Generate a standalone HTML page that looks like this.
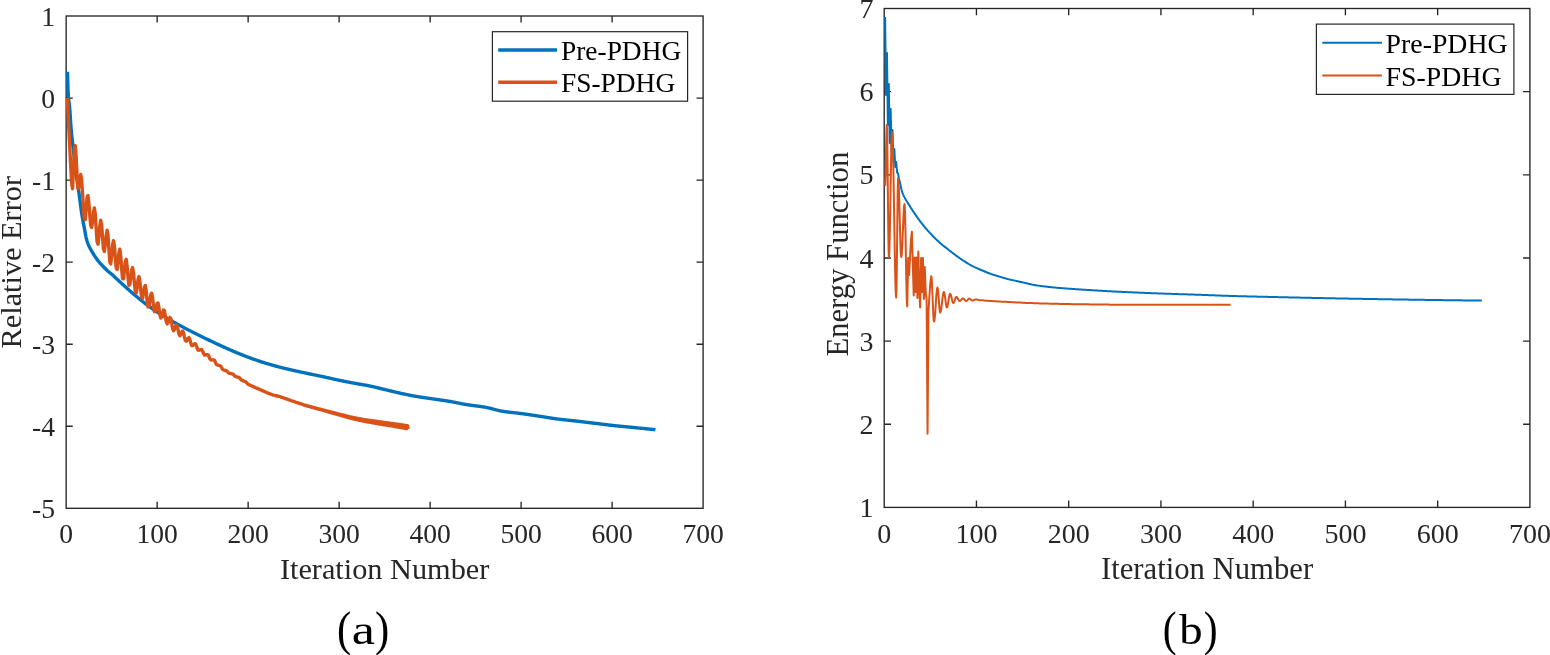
<!DOCTYPE html>
<html lang="en">
<head>
<meta charset="utf-8">
<title>Relative Error and Energy Function versus Iteration Number</title>
<style>
html,body{margin:0;padding:0;background:#fff;}
body{width:1550px;height:655px;overflow:hidden;}
svg{display:block;}
text{white-space:pre;}
</style>
</head>
<body>
<svg width="1550" height="655" viewBox="0 0 1550 655" font-family="'Liberation Serif', 'DejaVu Serif', serif">
<defs>
<clipPath id="cl"><rect x="63.65" y="16" width="639.45" height="492.3"/></clipPath>
<clipPath id="cr"><rect x="881.7" y="8.5" width="648.2" height="498.9"/></clipPath>
</defs>
<rect width="1550" height="655" fill="#fff"/>
<g id="plot-a">
<rect x="66.15" y="16" width="636.95" height="492.3" fill="#fff" stroke="#262626" stroke-width="1.35"/>
<path d="M157.14 508.3v-6.6M157.14 16v6.6M248.14 508.3v-6.6M248.14 16v6.6M339.13 508.3v-6.6M339.13 16v6.6M430.12 508.3v-6.6M430.12 16v6.6M521.11 508.3v-6.6M521.11 16v6.6M612.11 508.3v-6.6M612.11 16v6.6M66.15 98.05h6.6M703.1 98.05h-6.6M66.15 180.1h6.6M703.1 180.1h-6.6M66.15 262.15h6.6M703.1 262.15h-6.6M66.15 344.2h6.6M703.1 344.2h-6.6M66.15 426.25h6.6M703.1 426.25h-6.6" fill="none" stroke="#262626" stroke-width="1.35"/>
<g font-size="27.6" fill="#262626">
<text x="66.15" y="543.3" text-anchor="middle">0</text>
<text x="157.14" y="543.3" text-anchor="middle">100</text>
<text x="248.14" y="543.3" text-anchor="middle">200</text>
<text x="339.13" y="543.3" text-anchor="middle">300</text>
<text x="430.12" y="543.3" text-anchor="middle">400</text>
<text x="521.11" y="543.3" text-anchor="middle">500</text>
<text x="612.11" y="543.3" text-anchor="middle">600</text>
<text x="703.1" y="543.3" text-anchor="middle">700</text>
<text x="55.1" y="25.54" text-anchor="end">1</text>
<text x="55.1" y="107.59" text-anchor="end">0</text>
<text x="55.1" y="189.64" text-anchor="end">-1</text>
<text x="55.1" y="271.69" text-anchor="end">-2</text>
<text x="55.1" y="353.74" text-anchor="end">-3</text>
<text x="55.1" y="435.79" text-anchor="end">-4</text>
<text x="55.1" y="517.84" text-anchor="end">-5</text>
</g>
<g font-size="30.3" fill="#262626" text-anchor="middle">
<text x="384.62" y="579">Iteration Number</text>
<text transform="translate(21 262.2) rotate(-90)">Relative Error</text>
</g>
<polyline clip-path="url(#cl)" points="67.45,71.8 67.95,89.07 68.45,98.19 68.95,101.87 69.45,105.32 69.95,111.41 70.45,119.24 70.95,126.86 71.45,132.65 71.95,137.32 72.45,141.67 72.95,146.15 73.45,150.66 73.95,155.13 74.45,159.55 74.95,163.87 75.45,168.05 75.95,172.07 76.45,175.87 76.95,179.44 77.45,182.84 77.95,186.17 78.45,189.51 78.95,192.94 79.45,196.56 79.95,200.37 80.45,204.26 80.95,208.07 81.45,211.7 81.95,215.01 82.45,218.03 82.95,220.86 83.45,223.57 83.95,226.19 84.45,228.78 84.95,231.4 85.45,234.14 85.95,236.78 86.45,239.01 86.95,240.76 87.45,242.27 87.95,243.62 88.45,244.85 88.95,246 89.45,247.06 89.95,248.04 90.45,248.98 90.95,249.88 91.45,250.76 91.95,251.62 92.45,252.45 92.95,253.26 93.45,254.05 93.95,254.82 94.45,255.58 94.95,256.33 95.45,257.08 95.95,257.83 96.45,258.56 96.95,259.27 97.45,259.97 97.95,260.64 98.45,261.29 98.95,261.91 99.45,262.5 99.95,263.07 100.45,263.62 100.95,264.16 101.45,264.69 101.95,265.21 102.45,265.73 102.95,266.24 103.45,266.75 103.95,267.27 104.45,267.78 104.95,268.28 105.45,268.78 105.95,269.28 106.45,269.76 106.95,270.24 107.45,270.7 107.95,271.16 108.45,271.6 108.95,272.02 109.45,272.43 109.95,272.83 110.45,273.23 110.95,273.63 111.45,274.04 111.95,274.45 112.45,274.89 112.95,275.33 113.45,275.79 113.95,276.25 114.45,276.73 114.95,277.2 115.45,277.68 115.95,278.16 116.45,278.64 116.95,279.11 117.45,279.58 117.95,280.04 118.45,280.51 118.95,280.97 119.45,281.43 119.95,281.89 120.45,282.36 120.95,282.82 121.45,283.27 121.95,283.73 122.45,284.19 122.95,284.65 123.45,285.1 123.95,285.55 124.45,286.01 124.95,286.46 125.45,286.91 125.95,287.36 126.45,287.81 126.95,288.25 127.45,288.7 127.95,289.14 128.45,289.59 128.95,290.03 129.45,290.47 129.95,290.91 130.45,291.34 130.95,291.78 131.45,292.21 131.95,292.64 132.45,293.07 132.95,293.5 133.45,293.93 133.95,294.36 134.45,294.78 134.95,295.21 135.45,295.63 135.95,296.05 136.45,296.47 136.95,296.89 137.45,297.3 137.95,297.72 138.45,298.13 138.95,298.54 139.45,298.94 139.95,299.35 140.45,299.75 140.95,300.15 141.45,300.55 141.95,300.95 142.45,301.34 142.95,301.74 143.45,302.13 143.95,302.52 144.45,302.91 144.95,303.29 145.45,303.68 145.95,304.06 146.45,304.44 146.95,304.82 147.45,305.19 147.95,305.56 148.45,305.93 148.95,306.3 149.45,306.66 149.95,307.02 150.45,307.38 150.95,307.74 151.45,308.1 151.95,308.45 152.45,308.8 152.95,309.15 153.45,309.5 153.95,309.85 154.45,310.19 154.95,310.53 155.45,310.87 155.95,311.21 156.45,311.55 156.95,311.88 157.45,312.21 157.95,312.54 158.45,312.87 158.95,313.2 159.45,313.52 159.95,313.84 160.45,314.16 160.95,314.48 161.45,314.8 161.95,315.11 162.45,315.43 162.95,315.74 163.45,316.05 163.95,316.36 164.45,316.66 164.95,316.97 165.45,317.27 165.95,317.58 166.45,317.88 166.95,318.18 167.45,318.48 167.95,318.77 168.45,319.07 168.95,319.36 169.45,319.65 169.95,319.94 170.45,320.23 170.95,320.52 171.45,320.81 171.95,321.09 172.45,321.37 172.95,321.66 173.45,321.94 173.95,322.22 174.45,322.5 174.95,322.78 175.45,323.05 175.95,323.33 176.45,323.61 176.95,323.88 177.45,324.15 177.95,324.43 178.45,324.7 178.95,324.97 179.45,325.23 179.95,325.5 180.45,325.77 180.95,326.03 181.45,326.3 181.95,326.56 182.45,326.83 182.95,327.09 183.45,327.35 183.95,327.61 184.45,327.88 184.95,328.14 185.45,328.4 185.95,328.66 186.45,328.92 186.95,329.17 187.45,329.43 187.95,329.69 188.45,329.94 188.95,330.2 189.45,330.45 189.95,330.71 190.45,330.96 190.95,331.21 191.45,331.47 191.95,331.72 192.45,331.97 192.95,332.22 193.45,332.47 193.95,332.73 194.45,332.98 194.95,333.23 195.45,333.48 195.95,333.73 196.45,333.98 196.95,334.23 197.45,334.48 197.95,334.73 198.45,334.98 198.95,335.23 199.45,335.48 199.95,335.73 200.45,335.97 200.95,336.22 201.45,336.47 201.95,336.71 202.45,336.96 202.95,337.2 203.45,337.45 203.95,337.69 204.45,337.94 204.95,338.18 205.45,338.43 205.95,338.67 206.45,338.91 206.95,339.16 207.45,339.4 207.95,339.64 208.45,339.89 208.95,340.13 209.45,340.37 209.95,340.61 210.45,340.85 210.95,341.09 211.45,341.33 211.95,341.57 212.45,341.81 212.95,342.04 213.45,342.28 213.95,342.52 214.45,342.75 214.95,342.99 215.45,343.22 215.95,343.45 216.45,343.69 216.95,343.92 217.45,344.15 217.95,344.38 218.45,344.62 218.95,344.85 219.45,345.08 219.95,345.31 220.45,345.54 220.95,345.77 221.45,346 221.95,346.23 222.45,346.46 222.95,346.68 223.45,346.91 223.95,347.14 224.45,347.36 224.95,347.59 225.45,347.81 225.95,348.04 226.45,348.26 226.95,348.48 227.45,348.7 227.95,348.92 228.45,349.14 228.95,349.36 229.45,349.58 229.95,349.79 230.45,350.01 230.95,350.23 231.45,350.44 231.95,350.65 232.45,350.87 232.95,351.08 233.45,351.29 233.95,351.5 234.45,351.72 234.95,351.93 235.45,352.14 235.95,352.35 236.45,352.56 236.95,352.76 237.45,352.97 237.95,353.18 238.45,353.38 238.95,353.59 239.45,353.79 239.95,354 240.45,354.2 240.95,354.4 241.45,354.6 241.95,354.8 242.45,355 242.95,355.2 243.45,355.4 243.95,355.59 244.45,355.79 244.95,355.98 245.45,356.17 245.95,356.36 246.45,356.55 246.95,356.74 247.45,356.93 247.95,357.12 248.45,357.3 248.95,357.49 249.45,357.68 249.95,357.86 250.45,358.05 250.95,358.23 251.45,358.41 251.95,358.59 252.45,358.78 252.95,358.96 253.45,359.13 253.95,359.31 254.45,359.49 254.95,359.67 255.45,359.84 255.95,360.02 256.45,360.19 256.95,360.36 257.45,360.53 257.95,360.7 258.45,360.87 258.95,361.04 259.45,361.21 259.95,361.37 260.45,361.53 260.95,361.7 261.45,361.86 261.95,362.02 262.45,362.18 262.95,362.34 263.45,362.49 263.95,362.65 264.45,362.8 264.95,362.96 265.45,363.11 265.95,363.26 266.45,363.41 266.95,363.56 267.45,363.71 267.95,363.86 268.45,364.01 268.95,364.16 269.45,364.3 269.95,364.45 270.45,364.59 270.95,364.74 271.45,364.88 271.95,365.02 272.45,365.16 272.95,365.3 273.45,365.44 273.95,365.58 274.45,365.72 274.95,365.85 275.45,365.99 275.95,366.12 276.45,366.26 276.95,366.39 277.45,366.52 277.95,366.66 278.45,366.79 278.95,366.92 279.45,367.05 279.95,367.18 280.45,367.3 280.95,367.43 281.45,367.56 281.95,367.68 282.45,367.81 282.95,367.93 283.45,368.05 283.95,368.18 284.45,368.3 284.95,368.42 285.45,368.54 285.95,368.66 286.45,368.78 286.95,368.9 287.45,369.02 287.95,369.14 288.45,369.25 288.95,369.37 289.45,369.49 289.95,369.6 290.45,369.72 290.95,369.84 291.45,369.95 291.95,370.07 292.45,370.18 292.95,370.3 293.45,370.41 293.95,370.52 294.45,370.64 294.95,370.75 295.45,370.86 295.95,370.97 296.45,371.08 296.95,371.19 297.45,371.3 297.95,371.41 298.45,371.52 298.95,371.63 299.45,371.74 299.95,371.84 300.45,371.95 300.95,372.06 301.45,372.16 301.95,372.27 302.45,372.38 302.95,372.48 303.45,372.59 303.95,372.69 304.45,372.8 304.95,372.91 305.45,373.01 305.95,373.12 306.45,373.22 306.95,373.33 307.45,373.43 307.95,373.54 308.45,373.65 308.95,373.75 309.45,373.86 309.95,373.96 310.45,374.07 310.95,374.17 311.45,374.28 311.95,374.38 312.45,374.48 312.95,374.59 313.45,374.69 313.95,374.8 314.45,374.9 314.95,375 315.45,375.1 315.95,375.21 316.45,375.31 316.95,375.41 317.45,375.52 317.95,375.62 318.45,375.72 318.95,375.83 319.45,375.93 319.95,376.04 320.45,376.14 320.95,376.25 321.45,376.35 321.95,376.46 322.45,376.56 322.95,376.67 323.45,376.78 323.95,376.88 324.45,376.99 324.95,377.1 325.45,377.21 325.95,377.32 326.45,377.43 326.95,377.54 327.45,377.65 327.95,377.77 328.45,377.88 328.95,377.99 329.45,378.1 329.95,378.22 330.45,378.33 330.95,378.45 331.45,378.56 331.95,378.67 332.45,378.79 332.95,378.9 333.45,379.01 333.95,379.12 334.45,379.23 334.95,379.35 335.45,379.46 335.95,379.57 336.45,379.68 336.95,379.79 337.45,379.89 337.95,380 338.45,380.11 338.95,380.21 339.45,380.32 339.95,380.42 340.45,380.52 340.95,380.62 341.45,380.72 341.95,380.83 342.45,380.93 342.95,381.03 343.45,381.13 343.95,381.23 344.45,381.32 344.95,381.42 345.45,381.52 345.95,381.62 346.45,381.71 346.95,381.81 347.45,381.91 347.95,382 348.45,382.1 348.95,382.2 349.45,382.29 349.95,382.39 350.45,382.48 350.95,382.58 351.45,382.67 351.95,382.76 352.45,382.86 352.95,382.95 353.45,383.05 353.95,383.14 354.45,383.23 354.95,383.33 355.45,383.42 355.95,383.51 356.45,383.6 356.95,383.69 357.45,383.78 357.95,383.87 358.45,383.96 358.95,384.04 359.45,384.13 359.95,384.22 360.45,384.3 360.95,384.39 361.45,384.48 361.95,384.56 362.45,384.65 362.95,384.73 363.45,384.82 363.95,384.91 364.45,385 364.95,385.08 365.45,385.17 365.95,385.26 366.45,385.35 366.95,385.45 367.45,385.54 367.95,385.64 368.45,385.73 368.95,385.83 369.45,385.93 369.95,386.03 370.45,386.13 370.95,386.24 371.45,386.34 371.95,386.45 372.45,386.56 372.95,386.67 373.45,386.79 373.95,386.9 374.45,387.02 374.95,387.14 375.45,387.26 375.95,387.38 376.45,387.5 376.95,387.62 377.45,387.74 377.95,387.87 378.45,387.99 378.95,388.12 379.45,388.24 379.95,388.37 380.45,388.49 380.95,388.62 381.45,388.74 381.95,388.86 382.45,388.99 382.95,389.11 383.45,389.23 383.95,389.36 384.45,389.48 384.95,389.6 385.45,389.72 385.95,389.84 386.45,389.95 386.95,390.07 387.45,390.19 387.95,390.31 388.45,390.43 388.95,390.55 389.45,390.67 389.95,390.79 390.45,390.9 390.95,391.02 391.45,391.14 391.95,391.26 392.45,391.38 392.95,391.5 393.45,391.62 393.95,391.73 394.45,391.85 394.95,391.97 395.45,392.08 395.95,392.2 396.45,392.32 396.95,392.43 397.45,392.55 397.95,392.66 398.45,392.77 398.95,392.88 399.45,393 399.95,393.11 400.45,393.22 400.95,393.32 401.45,393.43 401.95,393.54 402.45,393.65 402.95,393.75 403.45,393.86 403.95,393.97 404.45,394.07 404.95,394.18 405.45,394.29 405.95,394.39 406.45,394.5 406.95,394.6 407.45,394.71 407.95,394.81 408.45,394.91 408.95,395.02 409.45,395.12 409.95,395.22 410.45,395.32 410.95,395.42 411.45,395.52 411.95,395.61 412.45,395.71 412.95,395.81 413.45,395.9 413.95,395.99 414.45,396.08 414.95,396.18 415.45,396.26 415.95,396.35 416.45,396.44 416.95,396.53 417.45,396.61 417.95,396.69 418.45,396.77 418.95,396.85 419.45,396.93 419.95,397.01 420.45,397.09 420.95,397.16 421.45,397.24 421.95,397.31 422.45,397.39 422.95,397.46 423.45,397.53 423.95,397.6 424.45,397.68 424.95,397.75 425.45,397.82 425.95,397.89 426.45,397.96 426.95,398.03 427.45,398.1 427.95,398.17 428.45,398.24 428.95,398.31 429.45,398.38 429.95,398.46 430.45,398.53 430.95,398.6 431.45,398.67 431.95,398.75 432.45,398.82 432.95,398.9 433.45,398.97 433.95,399.04 434.45,399.12 434.95,399.19 435.45,399.26 435.95,399.34 436.45,399.41 436.95,399.48 437.45,399.56 437.95,399.63 438.45,399.7 438.95,399.77 439.45,399.85 439.95,399.92 440.45,399.99 440.95,400.06 441.45,400.14 441.95,400.21 442.45,400.29 442.95,400.36 443.45,400.43 443.95,400.51 444.45,400.59 444.95,400.66 445.45,400.74 445.95,400.82 446.45,400.89 446.95,400.97 447.45,401.05 447.95,401.13 448.45,401.21 448.95,401.29 449.45,401.38 449.95,401.46 450.45,401.54 450.95,401.63 451.45,401.72 451.95,401.81 452.45,401.9 452.95,401.99 453.45,402.09 453.95,402.18 454.45,402.28 454.95,402.38 455.45,402.48 455.95,402.58 456.45,402.68 456.95,402.78 457.45,402.88 457.95,402.98 458.45,403.08 458.95,403.18 459.45,403.28 459.95,403.38 460.45,403.47 460.95,403.57 461.45,403.67 461.95,403.77 462.45,403.86 462.95,403.96 463.45,404.05 463.95,404.14 464.45,404.23 464.95,404.32 465.45,404.41 465.95,404.49 466.45,404.58 466.95,404.66 467.45,404.73 467.95,404.81 468.45,404.89 468.95,404.96 469.45,405.03 469.95,405.1 470.45,405.17 470.95,405.24 471.45,405.31 471.95,405.37 472.45,405.44 472.95,405.51 473.45,405.57 473.95,405.63 474.45,405.7 474.95,405.76 475.45,405.83 475.95,405.89 476.45,405.95 476.95,406.02 477.45,406.08 477.95,406.15 478.45,406.21 478.95,406.28 479.45,406.35 479.95,406.42 480.45,406.49 480.95,406.56 481.45,406.63 481.95,406.71 482.45,406.78 482.95,406.86 483.45,406.94 483.95,407.02 484.45,407.11 484.95,407.19 485.45,407.28 485.95,407.37 486.45,407.47 486.95,407.58 487.45,407.68 487.95,407.79 488.45,407.91 488.95,408.02 489.45,408.14 489.95,408.26 490.45,408.39 490.95,408.51 491.45,408.64 491.95,408.77 492.45,408.9 492.95,409.03 493.45,409.16 493.95,409.29 494.45,409.42 494.95,409.55 495.45,409.68 495.95,409.81 496.45,409.93 496.95,410.06 497.45,410.18 497.95,410.3 498.45,410.42 498.95,410.54 499.45,410.65 499.95,410.76 500.45,410.87 500.95,410.97 501.45,411.07 501.95,411.17 502.45,411.26 502.95,411.34 503.45,411.42 503.95,411.5 504.45,411.58 504.95,411.65 505.45,411.72 505.95,411.79 506.45,411.85 506.95,411.92 507.45,411.98 507.95,412.05 508.45,412.11 508.95,412.17 509.45,412.22 509.95,412.28 510.45,412.34 510.95,412.39 511.45,412.45 511.95,412.5 512.45,412.56 512.95,412.61 513.45,412.67 513.95,412.72 514.45,412.77 514.95,412.83 515.45,412.88 515.95,412.93 516.45,412.99 516.95,413.04 517.45,413.1 517.95,413.15 518.45,413.21 518.95,413.27 519.45,413.33 519.95,413.39 520.45,413.45 520.95,413.52 521.45,413.58 521.95,413.65 522.45,413.71 522.95,413.78 523.45,413.85 523.95,413.92 524.45,413.99 524.95,414.06 525.45,414.13 525.95,414.2 526.45,414.27 526.95,414.35 527.45,414.42 527.95,414.49 528.45,414.57 528.95,414.64 529.45,414.72 529.95,414.79 530.45,414.87 530.95,414.94 531.45,415.02 531.95,415.09 532.45,415.17 532.95,415.24 533.45,415.32 533.95,415.4 534.45,415.47 534.95,415.55 535.45,415.63 535.95,415.7 536.45,415.78 536.95,415.85 537.45,415.93 537.95,416.01 538.45,416.08 538.95,416.16 539.45,416.23 539.95,416.31 540.45,416.38 540.95,416.46 541.45,416.54 541.95,416.61 542.45,416.69 542.95,416.77 543.45,416.85 543.95,416.93 544.45,417.01 544.95,417.09 545.45,417.17 545.95,417.25 546.45,417.33 546.95,417.41 547.45,417.49 547.95,417.57 548.45,417.65 548.95,417.73 549.45,417.81 549.95,417.89 550.45,417.97 550.95,418.04 551.45,418.12 551.95,418.2 552.45,418.27 552.95,418.35 553.45,418.43 553.95,418.5 554.45,418.57 554.95,418.65 555.45,418.72 555.95,418.79 556.45,418.86 556.95,418.92 557.45,418.99 557.95,419.06 558.45,419.12 558.95,419.18 559.45,419.24 559.95,419.3 560.45,419.36 560.95,419.42 561.45,419.48 561.95,419.54 562.45,419.59 562.95,419.65 563.45,419.71 563.95,419.76 564.45,419.81 564.95,419.87 565.45,419.92 565.95,419.97 566.45,420.03 566.95,420.08 567.45,420.13 567.95,420.18 568.45,420.23 568.95,420.28 569.45,420.34 569.95,420.39 570.45,420.44 570.95,420.49 571.45,420.54 571.95,420.59 572.45,420.65 572.95,420.7 573.45,420.75 573.95,420.81 574.45,420.86 574.95,420.91 575.45,420.97 575.95,421.03 576.45,421.08 576.95,421.14 577.45,421.2 577.95,421.26 578.45,421.31 578.95,421.37 579.45,421.43 579.95,421.49 580.45,421.55 580.95,421.61 581.45,421.67 581.95,421.73 582.45,421.79 582.95,421.85 583.45,421.91 583.95,421.97 584.45,422.03 584.95,422.09 585.45,422.15 585.95,422.21 586.45,422.27 586.95,422.33 587.45,422.39 587.95,422.46 588.45,422.52 588.95,422.58 589.45,422.64 589.95,422.7 590.45,422.76 590.95,422.82 591.45,422.88 591.95,422.94 592.45,423 592.95,423.06 593.45,423.13 593.95,423.19 594.45,423.25 594.95,423.31 595.45,423.37 595.95,423.43 596.45,423.49 596.95,423.55 597.45,423.61 597.95,423.67 598.45,423.73 598.95,423.8 599.45,423.86 599.95,423.92 600.45,423.98 600.95,424.04 601.45,424.11 601.95,424.17 602.45,424.23 602.95,424.29 603.45,424.35 603.95,424.42 604.45,424.48 604.95,424.54 605.45,424.6 605.95,424.66 606.45,424.72 606.95,424.78 607.45,424.84 607.95,424.9 608.45,424.96 608.95,425.02 609.45,425.08 609.95,425.14 610.45,425.19 610.95,425.25 611.45,425.31 611.95,425.36 612.45,425.42 612.95,425.47 613.45,425.53 613.95,425.58 614.45,425.63 614.95,425.69 615.45,425.74 615.95,425.79 616.45,425.84 616.95,425.89 617.45,425.94 617.95,425.99 618.45,426.04 618.95,426.09 619.45,426.14 619.95,426.19 620.45,426.24 620.95,426.29 621.45,426.33 621.95,426.38 622.45,426.43 622.95,426.48 623.45,426.53 623.95,426.57 624.45,426.62 624.95,426.67 625.45,426.72 625.95,426.76 626.45,426.81 626.95,426.86 627.45,426.91 627.95,426.95 628.45,427 628.95,427.05 629.45,427.1 629.95,427.15 630.45,427.2 630.95,427.25 631.45,427.3 631.95,427.34 632.45,427.39 632.95,427.44 633.45,427.49 633.95,427.54 634.45,427.59 634.95,427.64 635.45,427.69 635.95,427.74 636.45,427.79 636.95,427.84 637.45,427.89 637.95,427.94 638.45,427.99 638.95,428.04 639.45,428.09 639.95,428.14 640.45,428.19 640.95,428.24 641.45,428.29 641.95,428.34 642.45,428.39 642.95,428.44 643.45,428.49 643.95,428.54 644.45,428.59 644.95,428.64 645.45,428.69 645.95,428.74 646.45,428.79 646.95,428.85 647.45,428.9 647.95,428.95 648.45,429 648.95,429.05 649.45,429.1 649.95,429.15 650.45,429.2 650.95,429.25 651.45,429.3 651.95,429.35 652.45,429.4 652.95,429.45 653.45,429.5 653.95,429.55 654.45,429.6 654.95,429.65 655.4,429.7" fill="none" stroke="#0072BD" stroke-width="3.4" stroke-linejoin="round" stroke-linecap="butt"/>
<polyline clip-path="url(#cl)" points="67.46,98.05 68.3,117.99 69.14,135.25 69.97,151.63 70.81,167.47 71.65,182.91 72.52,188.74 73.43,171.01 74.34,150.59 75.25,145.55 76.16,157.19 77.07,175.93 77.98,188.55 78.89,187.46 79.8,179.17 80.71,174.51 81.62,179.76 82.53,192.99 83.44,208.29 84.35,218.84 85.26,219.66 86.17,208.98 87.08,197.04 87.99,195.55 88.9,203.38 89.81,215.48 90.72,225.32 91.63,227.61 92.54,221.63 93.45,212.56 94.36,208.02 95.27,213.94 96.18,228.63 97.09,241.75 98,244.24 98.91,236.68 99.82,225.82 100.73,220.25 101.64,224.99 102.55,237.51 103.46,249.01 104.37,251.49 105.28,245.05 106.19,235.44 107.1,230.26 108.01,235.32 108.92,249.36 109.83,261.93 110.74,263.87 111.65,255.99 112.56,245.34 113.47,240.61 114.38,245.83 115.29,257.57 116.2,267.79 117.11,269.53 118.02,262.23 118.93,252.59 119.84,249.24 120.75,256.15 121.66,268.98 122.57,278.68 123.48,278.72 124.39,270.76 125.3,261.73 126.21,259.27 127.12,266.11 128.03,277.59 128.94,285.37 129.85,284.46 130.75,277.61 131.66,270.12 132.57,267.59 133.48,272.7 134.39,282.7 135.3,291.28 136.21,293.04 137.12,287.43 138.03,279.59 138.94,276.55 139.85,281.13 140.76,290.25 141.67,297.65 142.58,298.41 143.49,293.26 144.4,287.07 145.31,285.44 146.22,291.13 147.13,300.57 148.04,306.92 148.95,306.13 149.86,300.64 150.77,294.82 151.68,293.16 152.59,297.88 153.5,306.03 154.41,311.69 155.32,311.32 156.23,307.31 157.14,303.33 158.05,302.98 158.96,307.8 159.87,314.53 160.78,318.14 161.69,316.75 162.6,312.87 163.51,309.88 164.42,310.67 165.33,315.77 166.24,321.57 167.15,323.89 168.06,322.41 168.97,319.45 169.88,317.43 170.79,318.49 171.7,323.27 172.61,328.59 173.52,330.8 174.43,329.52 175.34,326.89 176.25,325.1 177.16,326.03 178.07,329.95 178.98,334.15 179.89,335.69 180.8,334.45 181.71,332.23 182.62,331.01 183.53,332.59 184.44,336.78 185.35,340.54 186.26,341.29 187.17,340.01 188.08,338.31 188.99,337.65 189.9,339.56 190.81,343.19 191.72,345.66 192.63,345.63 193.54,344.83 194.45,343.98 195.36,343.75 196.27,345.37 197.18,348.22 198.09,350.17 199,350.25 199.91,349.91 200.82,349.56 201.73,349.53 202.64,351.12 203.55,353.58 204.46,354.99 205.37,354.96 206.28,354.77 207.19,354.6 208.1,354.79 209.01,356.62 209.92,358.97 210.83,359.99 211.74,359.96 212.65,359.92 213.56,359.89 214.47,360.29 215.38,362.21 216.29,364.28 217.2,364.91 218.11,365.11 219.02,365.43 219.93,365.62 220.84,366.19 221.75,367.93 222.66,369.52 223.57,369.86 224.48,370.17 225.39,370.58 226.3,370.76 227.21,371.27 228.12,372.4 229.03,373.25 229.94,373.38 230.85,373.57 231.76,373.78 232.67,373.87 233.58,374.57 234.49,375.76 235.4,376.5 236.31,376.63 237.22,376.97 238.13,377.29 239.04,377.44 239.95,378.35 240.86,379.61 241.77,380.21 242.68,380.44 243.59,380.98 244.5,381.4 245.41,381.58 246.32,382.37 247.23,383.5 248.14,384.38 249.05,384.71 249.96,385.13 250.87,385.54 251.78,385.95 252.69,386.36 253.6,386.76 254.51,387.17 255.42,387.57 256.33,387.97 257.24,388.37 258.14,388.77 259.05,389.17 259.96,389.56 260.87,389.96 261.78,390.35 262.69,390.75 263.6,391.15 264.51,391.56 265.42,391.96 266.33,392.37 267.24,392.76 268.15,393.15 269.06,393.51 269.97,393.86 270.88,394.19 271.79,394.49 272.7,394.77 273.61,395.04 274.52,395.28 275.43,395.52 276.34,395.76 277.25,395.99 278.16,396.23 279.07,396.48 279.98,396.74 280.89,397.02 281.8,397.31 282.71,397.61 283.62,397.92 284.53,398.24 285.44,398.56 286.35,398.88 287.26,399.21 288.17,399.54 289.08,399.87 289.99,400.19 290.9,400.51 291.81,400.84 292.72,401.13 293.63,401.46 294.54,401.73 295.45,402.09 296.36,402.33 297.27,402.71 298.18,402.92 299.09,403.33 300,403.51 300.91,403.94 301.82,404.09 302.73,404.55 303.64,404.65 304.55,405.14 305.46,405.21 306.37,405.72 307.28,405.74 308.19,406.28 309.1,406.25 310.01,406.82 310.92,406.74 311.83,407.33 312.74,407.21 313.65,407.83 314.56,407.67 315.47,408.32 316.38,408.12 317.29,408.81 318.2,408.57 319.11,409.31 320.02,409.02 320.93,409.81 321.84,409.49 322.75,410.33 323.66,409.97 324.57,410.85 325.48,410.45 326.39,411.38 327.3,410.93 328.21,411.91 329.12,411.42 330.03,412.44 330.94,411.9 331.85,412.97 332.76,412.38 333.67,413.49 334.58,412.86 335.49,414.01 336.4,413.32 337.31,414.52 338.22,413.78 339.13,415.03 340.04,414.24 340.95,415.53 341.86,414.7 342.77,416.04 343.68,415.16 344.59,416.55 345.5,415.62 346.41,417.06 347.32,416.07 348.23,417.56 349.14,416.51 350.05,418.04 350.96,416.94 351.87,418.51 352.78,417.35 353.69,418.97 354.6,417.74 355.51,419.4 356.42,418.11 357.33,419.82 358.24,418.46 359.15,420.21 360.06,418.79 360.97,420.59 361.88,419.11 362.79,420.96 363.7,419.42 364.61,421.32 365.52,419.72 366.43,421.67 367.34,420.01 368.25,422.01 369.16,420.29 370.07,422.35 370.98,420.57 371.89,422.68 372.8,420.84 373.71,423 374.62,421.11 375.53,423.33 376.44,421.37 377.35,423.64 378.26,421.62 379.17,423.95 380.08,421.86 380.99,424.25 381.9,422.1 382.81,424.54 383.72,422.33 384.62,424.83 385.53,422.56 386.44,425.12 387.35,422.79 388.26,425.41 389.17,423.03 390.08,425.71 390.99,423.27 391.9,426.01 392.81,423.51 393.72,426.32 394.63,423.77 395.54,426.64 396.45,424.03 397.36,426.97 398.27,424.3 399.18,427.3 400.09,424.57 401,427.63 401.91,424.84 402.82,427.97 403.73,425.11 404.64,428.31 405.55,425.39 406.46,428.65 407.37,425.68 408.28,429" fill="none" stroke="#D95319" stroke-width="3.4" stroke-linejoin="round" stroke-linecap="butt"/>
<rect x="492.4" y="31.7" width="195.2" height="69.5" fill="#fff" stroke="#262626" stroke-width="1.2"/>
<path d="M498.2 50H557" stroke="#0072BD" stroke-width="3.4"/>
<path d="M498.2 82.2H557" stroke="#D95319" stroke-width="3.4"/>
<g font-size="27.4" fill="#000">
<text x="561" y="59.6">Pre-PDHG</text>
<text x="561" y="91.8">FS-PDHG</text>
</g>
</g>
<g id="plot-b">
<rect x="884.2" y="8.5" width="645.7" height="498.9" fill="#fff" stroke="#262626" stroke-width="1.35"/>
<path d="M976.44 507.4v-6.8M976.44 8.5v6.8M1068.69 507.4v-6.8M1068.69 8.5v6.8M1160.93 507.4v-6.8M1160.93 8.5v6.8M1253.17 507.4v-6.8M1253.17 8.5v6.8M1345.41 507.4v-6.8M1345.41 8.5v6.8M1437.66 507.4v-6.8M1437.66 8.5v6.8M884.2 91.65h6.8M1529.9 91.65h-6.8M884.2 174.8h6.8M1529.9 174.8h-6.8M884.2 257.95h6.8M1529.9 257.95h-6.8M884.2 341.1h6.8M1529.9 341.1h-6.8M884.2 424.25h6.8M1529.9 424.25h-6.8" fill="none" stroke="#262626" stroke-width="1.35"/>
<g font-size="28" fill="#262626">
<text x="884.2" y="543.3" text-anchor="middle">0</text>
<text x="976.44" y="543.3" text-anchor="middle">100</text>
<text x="1068.69" y="543.3" text-anchor="middle">200</text>
<text x="1160.93" y="543.3" text-anchor="middle">300</text>
<text x="1253.17" y="543.3" text-anchor="middle">400</text>
<text x="1345.41" y="543.3" text-anchor="middle">500</text>
<text x="1437.66" y="543.3" text-anchor="middle">600</text>
<text x="1529.9" y="543.3" text-anchor="middle">700</text>
<text x="873.6" y="18.17" text-anchor="end">7</text>
<text x="873.6" y="101.32" text-anchor="end">6</text>
<text x="873.6" y="184.47" text-anchor="end">5</text>
<text x="873.6" y="267.62" text-anchor="end">4</text>
<text x="873.6" y="350.77" text-anchor="end">3</text>
<text x="873.6" y="433.92" text-anchor="end">2</text>
<text x="873.6" y="517.07" text-anchor="end">1</text>
</g>
<g font-size="30.7" fill="#262626" text-anchor="middle">
<text x="1207.05" y="579">Iteration Number</text>
<text transform="translate(847.8 254.2) rotate(-90)">Energy Function</text>
</g>
<polyline clip-path="url(#cr)" points="885.12,17 886.04,95 886.97,53 887.89,125 888.81,84 889.73,143 890.66,109 891.58,152 892.5,130 893.42,161 894.35,149 895.27,167 896.19,162 897.11,172.5 898.04,173.5 898.96,178.8 899.56,181 900.16,183.4 900.76,186.2 901.36,189.23 901.96,191.44 902.56,193.14 903.16,194.6 903.76,195.9 904.36,197.13 904.96,198.27 905.56,199.33 906.16,200.34 906.76,201.3 907.36,202.25 907.96,203.18 908.56,204.13 909.16,205.1 909.76,206.05 910.36,207 910.96,207.95 911.56,208.89 912.16,209.82 912.76,210.74 913.36,211.65 913.96,212.56 914.56,213.46 915.16,214.34 915.76,215.22 916.36,216.08 916.96,216.94 917.56,217.78 918.16,218.61 918.76,219.42 919.36,220.23 919.96,221.03 920.56,221.82 921.16,222.6 921.76,223.37 922.36,224.13 922.96,224.88 923.56,225.63 924.16,226.36 924.76,227.09 925.36,227.81 925.96,228.52 926.56,229.22 927.16,229.91 927.76,230.59 928.36,231.27 928.96,231.94 929.56,232.6 930.16,233.26 930.76,233.91 931.36,234.55 931.96,235.18 932.56,235.81 933.16,236.43 933.76,237.04 934.36,237.64 934.96,238.23 935.56,238.81 936.16,239.39 936.76,239.96 937.36,240.51 937.96,241.06 938.56,241.6 939.16,242.12 939.76,242.65 940.36,243.16 940.96,243.67 941.56,244.17 942.16,244.67 942.76,245.17 943.36,245.66 943.96,246.15 944.56,246.64 945.16,247.12 945.76,247.61 946.36,248.09 946.96,248.58 947.56,249.05 948.16,249.53 948.76,250 949.36,250.47 949.96,250.94 950.56,251.4 951.16,251.86 951.76,252.32 952.36,252.77 952.96,253.23 953.56,253.67 954.16,254.12 954.76,254.57 955.36,255.01 955.96,255.45 956.56,255.89 957.16,256.33 957.76,256.77 958.36,257.2 958.96,257.63 959.56,258.06 960.16,258.48 960.76,258.89 961.36,259.31 961.96,259.71 962.56,260.11 963.16,260.51 963.76,260.9 964.36,261.28 964.96,261.67 965.56,262.05 966.16,262.43 966.76,262.81 967.36,263.18 967.96,263.54 968.56,263.91 969.16,264.26 969.76,264.61 970.36,264.95 970.96,265.28 971.56,265.61 972.16,265.92 972.76,266.23 973.36,266.53 973.96,266.82 974.56,267.11 975.16,267.38 975.76,267.66 976.36,267.92 976.96,268.19 977.56,268.45 978.16,268.7 978.76,268.96 979.36,269.21 979.96,269.46 980.56,269.72 981.16,269.97 981.76,270.23 982.36,270.48 982.96,270.74 983.56,270.99 984.16,271.25 984.76,271.5 985.36,271.76 985.96,272.01 986.56,272.26 987.16,272.5 987.76,272.75 988.36,272.98 988.96,273.22 989.56,273.45 990.16,273.67 990.76,273.89 991.36,274.1 991.96,274.3 992.56,274.51 993.16,274.7 993.76,274.9 994.36,275.09 994.96,275.28 995.56,275.46 996.16,275.65 996.76,275.83 997.36,276.01 997.96,276.19 998.56,276.37 999.16,276.55 999.76,276.73 1000.36,276.91 1000.96,277.09 1001.56,277.26 1002.16,277.44 1002.76,277.62 1003.36,277.8 1003.96,277.97 1004.56,278.15 1005.16,278.32 1005.76,278.49 1006.36,278.65 1006.96,278.82 1007.56,278.98 1008.16,279.14 1008.76,279.29 1009.36,279.44 1009.96,279.58 1010.56,279.73 1011.16,279.86 1011.76,280 1012.36,280.13 1012.96,280.26 1013.56,280.39 1014.16,280.52 1014.76,280.64 1015.36,280.77 1015.96,280.89 1016.56,281.02 1017.16,281.15 1017.76,281.28 1018.36,281.41 1018.96,281.55 1019.56,281.68 1020.16,281.81 1020.76,281.95 1021.36,282.08 1021.96,282.22 1022.56,282.35 1023.16,282.49 1023.76,282.62 1024.36,282.76 1024.96,282.89 1025.56,283.03 1026.16,283.17 1026.76,283.32 1027.36,283.46 1027.96,283.61 1028.56,283.76 1029.16,283.91 1029.76,284.05 1030.36,284.2 1030.96,284.34 1031.56,284.48 1032.16,284.61 1032.76,284.73 1033.36,284.85 1033.96,284.96 1034.56,285.06 1035.16,285.16 1035.76,285.26 1036.36,285.35 1036.96,285.44 1037.56,285.53 1038.16,285.62 1038.76,285.71 1039.36,285.79 1039.96,285.88 1040.56,285.96 1041.16,286.04 1041.76,286.12 1042.36,286.19 1042.96,286.27 1043.56,286.34 1044.16,286.41 1044.76,286.49 1045.36,286.56 1045.96,286.62 1046.56,286.69 1047.16,286.76 1047.76,286.83 1048.36,286.89 1048.96,286.95 1049.56,287.02 1050.16,287.08 1050.76,287.14 1051.36,287.2 1051.96,287.27 1052.56,287.33 1053.16,287.39 1053.76,287.44 1054.36,287.5 1054.96,287.56 1055.56,287.61 1056.16,287.67 1056.76,287.72 1057.36,287.78 1057.96,287.83 1058.56,287.88 1059.16,287.93 1059.76,287.98 1060.36,288.03 1060.96,288.08 1061.56,288.13 1062.16,288.18 1062.76,288.23 1063.36,288.27 1063.96,288.32 1064.56,288.37 1065.16,288.41 1065.76,288.46 1066.36,288.51 1066.96,288.55 1067.56,288.6 1068.16,288.64 1068.76,288.69 1069.36,288.73 1069.96,288.77 1070.56,288.82 1071.16,288.86 1071.76,288.91 1072.36,288.95 1072.96,288.99 1073.56,289.03 1074.16,289.08 1074.76,289.12 1075.36,289.16 1075.96,289.2 1076.56,289.24 1077.16,289.28 1077.76,289.32 1078.36,289.36 1078.96,289.4 1079.56,289.44 1080.16,289.48 1080.76,289.51 1081.36,289.55 1081.96,289.59 1082.56,289.63 1083.16,289.67 1083.76,289.71 1084.36,289.74 1084.96,289.78 1085.56,289.82 1086.16,289.86 1086.76,289.9 1087.36,289.93 1087.96,289.97 1088.56,290.01 1089.16,290.05 1089.76,290.09 1090.36,290.12 1090.96,290.16 1091.56,290.2 1092.16,290.24 1092.76,290.28 1093.36,290.32 1093.96,290.35 1094.56,290.39 1095.16,290.43 1095.76,290.47 1096.36,290.5 1096.96,290.54 1097.56,290.58 1098.16,290.62 1098.76,290.65 1099.36,290.69 1099.96,290.73 1100.56,290.76 1101.16,290.8 1101.76,290.83 1102.36,290.87 1102.96,290.91 1103.56,290.94 1104.16,290.97 1104.76,291.01 1105.36,291.04 1105.96,291.08 1106.56,291.11 1107.16,291.14 1107.76,291.17 1108.36,291.21 1108.96,291.24 1109.56,291.27 1110.16,291.3 1110.76,291.33 1111.36,291.36 1111.96,291.39 1112.56,291.43 1113.16,291.46 1113.76,291.49 1114.36,291.52 1114.96,291.55 1115.56,291.58 1116.16,291.61 1116.76,291.63 1117.36,291.66 1117.96,291.69 1118.56,291.72 1119.16,291.75 1119.76,291.78 1120.36,291.81 1120.96,291.84 1121.56,291.86 1122.16,291.89 1122.76,291.92 1123.36,291.95 1123.96,291.98 1124.56,292 1125.16,292.03 1125.76,292.06 1126.36,292.08 1126.96,292.11 1127.56,292.14 1128.16,292.17 1128.76,292.19 1129.36,292.22 1129.96,292.25 1130.56,292.27 1131.16,292.3 1131.76,292.33 1132.36,292.35 1132.96,292.38 1133.56,292.41 1134.16,292.43 1134.76,292.46 1135.36,292.48 1135.96,292.51 1136.56,292.54 1137.16,292.56 1137.76,292.59 1138.36,292.61 1138.96,292.64 1139.56,292.66 1140.16,292.69 1140.76,292.71 1141.36,292.74 1141.96,292.77 1142.56,292.79 1143.16,292.82 1143.76,292.84 1144.36,292.86 1144.96,292.89 1145.56,292.91 1146.16,292.94 1146.76,292.96 1147.36,292.99 1147.96,293.01 1148.56,293.04 1149.16,293.06 1149.76,293.08 1150.36,293.11 1150.96,293.13 1151.56,293.16 1152.16,293.18 1152.76,293.2 1153.36,293.23 1153.96,293.25 1154.56,293.27 1155.16,293.3 1155.76,293.32 1156.36,293.34 1156.96,293.36 1157.56,293.39 1158.16,293.41 1158.76,293.43 1159.36,293.45 1159.96,293.48 1160.56,293.5 1161.16,293.52 1161.76,293.54 1162.36,293.56 1162.96,293.59 1163.56,293.61 1164.16,293.63 1164.76,293.65 1165.36,293.67 1165.96,293.69 1166.56,293.71 1167.16,293.73 1167.76,293.75 1168.36,293.77 1168.96,293.79 1169.56,293.81 1170.16,293.83 1170.76,293.85 1171.36,293.87 1171.96,293.89 1172.56,293.91 1173.16,293.93 1173.76,293.95 1174.36,293.97 1174.96,293.99 1175.56,294.01 1176.16,294.03 1176.76,294.05 1177.36,294.07 1177.96,294.09 1178.56,294.11 1179.16,294.13 1179.76,294.14 1180.36,294.16 1180.96,294.18 1181.56,294.2 1182.16,294.22 1182.76,294.24 1183.36,294.26 1183.96,294.28 1184.56,294.3 1185.16,294.32 1185.76,294.34 1186.36,294.35 1186.96,294.37 1187.56,294.39 1188.16,294.41 1188.76,294.43 1189.36,294.45 1189.96,294.47 1190.56,294.49 1191.16,294.51 1191.76,294.53 1192.36,294.55 1192.96,294.57 1193.56,294.59 1194.16,294.61 1194.76,294.63 1195.36,294.65 1195.96,294.67 1196.56,294.69 1197.16,294.71 1197.76,294.73 1198.36,294.75 1198.96,294.78 1199.56,294.8 1200.16,294.82 1200.76,294.84 1201.36,294.86 1201.96,294.88 1202.56,294.91 1203.16,294.93 1203.76,294.95 1204.36,294.97 1204.96,295 1205.56,295.02 1206.16,295.04 1206.76,295.06 1207.36,295.09 1207.96,295.11 1208.56,295.13 1209.16,295.15 1209.76,295.18 1210.36,295.2 1210.96,295.22 1211.56,295.25 1212.16,295.27 1212.76,295.29 1213.36,295.31 1213.96,295.34 1214.56,295.36 1215.16,295.38 1215.76,295.41 1216.36,295.43 1216.96,295.45 1217.56,295.47 1218.16,295.5 1218.76,295.52 1219.36,295.54 1219.96,295.56 1220.56,295.58 1221.16,295.61 1221.76,295.63 1222.36,295.65 1222.96,295.67 1223.56,295.69 1224.16,295.71 1224.76,295.73 1225.36,295.76 1225.96,295.78 1226.56,295.8 1227.16,295.82 1227.76,295.84 1228.36,295.86 1228.96,295.88 1229.56,295.9 1230.16,295.92 1230.76,295.93 1231.36,295.95 1231.96,295.97 1232.56,295.99 1233.16,296.01 1233.76,296.03 1234.36,296.04 1234.96,296.06 1235.56,296.08 1236.16,296.1 1236.76,296.11 1237.36,296.13 1237.96,296.15 1238.56,296.16 1239.16,296.18 1239.76,296.2 1240.36,296.21 1240.96,296.23 1241.56,296.24 1242.16,296.26 1242.76,296.28 1243.36,296.29 1243.96,296.31 1244.56,296.32 1245.16,296.34 1245.76,296.35 1246.36,296.37 1246.96,296.38 1247.56,296.4 1248.16,296.41 1248.76,296.43 1249.36,296.44 1249.96,296.46 1250.56,296.47 1251.16,296.49 1251.76,296.5 1252.36,296.52 1252.96,296.53 1253.56,296.55 1254.16,296.56 1254.76,296.57 1255.36,296.59 1255.96,296.6 1256.56,296.62 1257.16,296.63 1257.76,296.65 1258.36,296.66 1258.96,296.68 1259.56,296.69 1260.16,296.7 1260.76,296.72 1261.36,296.73 1261.96,296.75 1262.56,296.76 1263.16,296.78 1263.76,296.79 1264.36,296.8 1264.96,296.82 1265.56,296.83 1266.16,296.85 1266.76,296.86 1267.36,296.87 1267.96,296.89 1268.56,296.9 1269.16,296.92 1269.76,296.93 1270.36,296.95 1270.96,296.96 1271.56,296.97 1272.16,296.99 1272.76,297 1273.36,297.02 1273.96,297.03 1274.56,297.04 1275.16,297.06 1275.76,297.07 1276.36,297.09 1276.96,297.1 1277.56,297.11 1278.16,297.13 1278.76,297.14 1279.36,297.16 1279.96,297.17 1280.56,297.18 1281.16,297.2 1281.76,297.21 1282.36,297.23 1282.96,297.24 1283.56,297.25 1284.16,297.27 1284.76,297.28 1285.36,297.29 1285.96,297.31 1286.56,297.32 1287.16,297.34 1287.76,297.35 1288.36,297.36 1288.96,297.38 1289.56,297.39 1290.16,297.4 1290.76,297.42 1291.36,297.43 1291.96,297.45 1292.56,297.46 1293.16,297.47 1293.76,297.49 1294.36,297.5 1294.96,297.51 1295.56,297.53 1296.16,297.54 1296.76,297.55 1297.36,297.57 1297.96,297.58 1298.56,297.59 1299.16,297.61 1299.76,297.62 1300.36,297.63 1300.96,297.65 1301.56,297.66 1302.16,297.67 1302.76,297.69 1303.36,297.7 1303.96,297.71 1304.56,297.73 1305.16,297.74 1305.76,297.75 1306.36,297.77 1306.96,297.78 1307.56,297.79 1308.16,297.81 1308.76,297.82 1309.36,297.83 1309.96,297.84 1310.56,297.86 1311.16,297.87 1311.76,297.88 1312.36,297.9 1312.96,297.91 1313.56,297.92 1314.16,297.93 1314.76,297.95 1315.36,297.96 1315.96,297.97 1316.56,297.99 1317.16,298 1317.76,298.01 1318.36,298.02 1318.96,298.04 1319.56,298.05 1320.16,298.06 1320.76,298.07 1321.36,298.09 1321.96,298.1 1322.56,298.11 1323.16,298.12 1323.76,298.14 1324.36,298.15 1324.96,298.16 1325.56,298.17 1326.16,298.19 1326.76,298.2 1327.36,298.21 1327.96,298.22 1328.56,298.23 1329.16,298.25 1329.76,298.26 1330.36,298.27 1330.96,298.28 1331.56,298.3 1332.16,298.31 1332.76,298.32 1333.36,298.33 1333.96,298.34 1334.56,298.36 1335.16,298.37 1335.76,298.38 1336.36,298.39 1336.96,298.4 1337.56,298.41 1338.16,298.43 1338.76,298.44 1339.36,298.45 1339.96,298.46 1340.56,298.47 1341.16,298.48 1341.76,298.5 1342.36,298.51 1342.96,298.52 1343.56,298.53 1344.16,298.54 1344.76,298.55 1345.36,298.56 1345.96,298.57 1346.56,298.59 1347.16,298.6 1347.76,298.61 1348.36,298.62 1348.96,298.63 1349.56,298.64 1350.16,298.65 1350.76,298.66 1351.36,298.67 1351.96,298.69 1352.56,298.7 1353.16,298.71 1353.76,298.72 1354.36,298.73 1354.96,298.74 1355.56,298.75 1356.16,298.76 1356.76,298.77 1357.36,298.78 1357.96,298.79 1358.56,298.8 1359.16,298.81 1359.76,298.82 1360.36,298.83 1360.96,298.84 1361.56,298.85 1362.16,298.87 1362.76,298.88 1363.36,298.89 1363.96,298.9 1364.56,298.91 1365.16,298.92 1365.76,298.93 1366.36,298.94 1366.96,298.95 1367.56,298.96 1368.16,298.97 1368.76,298.98 1369.36,298.99 1369.96,299 1370.56,299.01 1371.16,299.02 1371.76,299.03 1372.36,299.04 1372.96,299.05 1373.56,299.06 1374.16,299.07 1374.76,299.08 1375.36,299.09 1375.96,299.1 1376.56,299.11 1377.16,299.12 1377.76,299.13 1378.36,299.14 1378.96,299.15 1379.56,299.16 1380.16,299.17 1380.76,299.18 1381.36,299.19 1381.96,299.2 1382.56,299.21 1383.16,299.22 1383.76,299.23 1384.36,299.24 1384.96,299.25 1385.56,299.26 1386.16,299.27 1386.76,299.28 1387.36,299.29 1387.96,299.3 1388.56,299.31 1389.16,299.32 1389.76,299.33 1390.36,299.34 1390.96,299.35 1391.56,299.36 1392.16,299.37 1392.76,299.38 1393.36,299.39 1393.96,299.4 1394.56,299.41 1395.16,299.42 1395.76,299.43 1396.36,299.44 1396.96,299.45 1397.56,299.46 1398.16,299.46 1398.76,299.47 1399.36,299.48 1399.96,299.49 1400.56,299.5 1401.16,299.51 1401.76,299.52 1402.36,299.53 1402.96,299.54 1403.56,299.55 1404.16,299.56 1404.76,299.57 1405.36,299.58 1405.96,299.59 1406.56,299.6 1407.16,299.61 1407.76,299.62 1408.36,299.62 1408.96,299.63 1409.56,299.64 1410.16,299.65 1410.76,299.66 1411.36,299.67 1411.96,299.68 1412.56,299.69 1413.16,299.7 1413.76,299.71 1414.36,299.72 1414.96,299.73 1415.56,299.73 1416.16,299.74 1416.76,299.75 1417.36,299.76 1417.96,299.77 1418.56,299.78 1419.16,299.79 1419.76,299.8 1420.36,299.81 1420.96,299.81 1421.56,299.82 1422.16,299.83 1422.76,299.84 1423.36,299.85 1423.96,299.86 1424.56,299.87 1425.16,299.88 1425.76,299.89 1426.36,299.89 1426.96,299.9 1427.56,299.91 1428.16,299.92 1428.76,299.93 1429.36,299.94 1429.96,299.95 1430.56,299.95 1431.16,299.96 1431.76,299.97 1432.36,299.98 1432.96,299.99 1433.56,300 1434.16,300 1434.76,300.01 1435.36,300.02 1435.96,300.03 1436.56,300.04 1437.16,300.05 1437.76,300.06 1438.36,300.06 1438.96,300.07 1439.56,300.08 1440.16,300.09 1440.76,300.1 1441.36,300.1 1441.96,300.11 1442.56,300.12 1443.16,300.13 1443.76,300.14 1444.36,300.14 1444.96,300.15 1445.56,300.16 1446.16,300.17 1446.76,300.18 1447.36,300.18 1447.96,300.19 1448.56,300.2 1449.16,300.21 1449.76,300.22 1450.36,300.22 1450.96,300.23 1451.56,300.24 1452.16,300.25 1452.76,300.26 1453.36,300.26 1453.96,300.27 1454.56,300.28 1455.16,300.29 1455.76,300.29 1456.36,300.3 1456.96,300.31 1457.56,300.32 1458.16,300.32 1458.76,300.33 1459.36,300.34 1459.96,300.35 1460.56,300.35 1461.16,300.36 1461.76,300.37 1462.36,300.38 1462.96,300.38 1463.56,300.39 1464.16,300.4 1464.76,300.4 1465.36,300.41 1465.96,300.42 1466.56,300.43 1467.16,300.43 1467.76,300.44 1468.36,300.45 1468.96,300.45 1469.56,300.46 1470.16,300.47 1470.76,300.48 1471.36,300.48 1471.96,300.49 1472.56,300.5 1473.16,300.5 1473.76,300.51 1474.36,300.52 1474.96,300.52 1475.56,300.53 1476.16,300.54 1476.76,300.54 1477.36,300.55 1477.96,300.56 1478.56,300.56 1479.16,300.57 1479.76,300.58 1480.36,300.58 1480.96,300.59 1481.56,300.6 1481.8,300.6" fill="none" stroke="#0072BD" stroke-width="2.0" stroke-linejoin="round" stroke-linecap="butt"/>
<polyline clip-path="url(#cr)" points="885.1,186 885.38,181.91 885.67,170.72 885.95,155.45 886.23,140.18 886.52,128.99 886.8,124.9 887.1,131.46 887.4,149.82 887.7,176.37 888,205.83 888.3,232.38 888.6,250.74 888.9,257.3 889.19,254.77 889.48,247.39 889.77,235.75 890.06,220.79 890.35,203.74 890.65,185.96 890.94,168.91 891.23,153.95 891.52,142.31 891.81,134.93 892.1,132.4 892.39,134.47 892.69,140.58 892.98,150.41 893.27,163.48 893.56,179.13 893.86,196.58 894.15,214.95 894.44,233.32 894.74,250.77 895.03,266.42 895.32,279.49 895.61,289.32 895.91,295.43 896.2,297.5 896.52,289.52 896.83,267.73 897.15,237.95 897.47,208.18 897.78,186.38 898.1,178.4 898.39,179.99 898.68,184.65 898.97,191.98 899.26,201.4 899.55,212.15 899.85,223.35 900.14,234.1 900.43,243.52 900.72,250.85 901.01,255.51 901.3,257.1 901.59,256.02 901.88,252.89 902.17,247.94 902.46,241.58 902.75,234.33 903.05,226.77 903.34,219.52 903.63,213.16 903.92,208.21 904.21,205.08 904.5,204 904.81,207.09 905.11,215.99 905.42,229.62 905.73,246.35 906.03,264.15 906.34,280.88 906.65,294.51 906.95,303.41 907.26,306.5 908.18,258 909.11,275 910.03,257 910.95,240 911.87,231.8 912.8,265 913.72,295.5 914.64,257.5 915.56,292 916.49,257.5 917.41,298 918.33,251.5 919.25,290 920.17,307.5 921.1,258 922.02,292 922.94,258 923.86,299 924.79,267 925.71,292 926.63,300 927.55,433.7 928.48,312 929.4,296 930.32,283 931.24,276.2 931.55,277.57 931.86,281.51 932.16,287.55 932.47,294.96 932.78,302.84 933.08,310.25 933.39,316.29 933.69,320.23 934,321.6 934.29,321.02 934.58,319.32 934.88,316.62 935.17,313.1 935.46,309 935.75,304.6 936.04,300.2 936.33,296.1 936.62,292.58 936.92,289.88 937.21,288.18 937.5,287.6 937.8,288.35 938.1,290.52 938.4,293.85 938.7,297.93 939,302.27 939.3,306.35 939.6,309.68 939.9,311.85 940.2,312.6 940.51,312.25 940.82,311.22 941.12,309.58 941.43,307.45 941.74,304.97 942.05,302.3 942.36,299.63 942.67,297.15 942.98,295.02 943.28,293.38 943.59,292.35 943.9,292 944.2,292.38 944.5,293.47 944.8,295.17 945.1,297.32 945.4,299.7 945.7,302.08 946,304.23 946.3,305.93 946.6,307.02 946.9,307.4 947.19,307.12 947.48,306.32 947.77,305.05 948.06,303.42 948.35,301.57 948.65,299.63 948.94,297.78 949.23,296.15 949.52,294.88 949.81,294.08 950.1,293.8 950.39,293.99 950.68,294.53 950.97,295.39 951.26,296.49 951.55,297.75 951.85,299.05 952.14,300.31 952.43,301.41 952.72,302.27 953.01,302.81 953.3,303 953.6,302.85 953.9,302.43 954.2,301.76 954.5,300.93 954.8,300 955.1,299.07 955.4,298.24 955.7,297.57 956,297.15 956.3,297 956.61,297.08 956.92,297.32 957.23,297.69 957.54,298.17 957.85,298.72 958.15,299.28 958.46,299.83 958.77,300.31 959.08,300.68 959.39,300.92 959.7,301 959.99,300.95 960.28,300.79 960.57,300.55 960.86,300.24 961.15,299.89 961.45,299.51 961.74,299.16 962.03,298.85 962.32,298.61 962.61,298.45 962.9,298.4 963.2,298.45 963.5,298.61 963.8,298.85 964.1,299.16 964.4,299.51 964.7,299.89 965,300.24 965.3,300.55 965.6,300.79 965.9,300.95 966.2,301 966.51,300.94 966.82,300.77 967.13,300.51 967.44,300.17 967.75,299.8 968.06,299.43 968.37,299.09 968.68,298.83 968.99,298.66 969.3,298.6 969.59,298.64 969.88,298.76 970.17,298.95 970.46,299.18 970.75,299.46 971.05,299.74 971.34,300.02 971.63,300.25 971.92,300.44 972.21,300.56 972.5,300.6 972.79,300.58 973.08,300.5 973.37,300.39 973.66,300.25 973.95,300.09 974.25,299.91 974.54,299.75 974.83,299.61 975.12,299.5 975.41,299.42 975.7,299.4 976.01,299.41 976.31,299.44 976.62,299.49 976.93,299.55 977.24,299.63 977.54,299.71 977.85,299.8 978.16,299.89 978.46,299.97 978.77,300.05 979.08,300.11 979.39,300.16 979.69,300.19 980,300.2 982,300.34 984,300.49 986,300.63 988,300.76 990,300.9 992,301.03 994,301.16 996,301.28 998,301.4 1000,301.52 1002,301.63 1004,301.75 1006,301.86 1008,301.97 1010,302.08 1012,302.19 1014,302.3 1016,302.41 1018,302.51 1020,302.61 1022,302.7 1024,302.8 1026,302.89 1028,302.97 1030,303.05 1032,303.12 1034,303.19 1036,303.26 1038,303.32 1040,303.39 1042,303.45 1044,303.51 1046,303.56 1048,303.62 1050,303.67 1052,303.72 1054,303.77 1056,303.82 1058,303.87 1060,303.91 1062,303.95 1064,303.99 1066,304.03 1068,304.06 1070,304.1 1072,304.13 1074,304.16 1076,304.19 1078,304.22 1080,304.25 1082,304.28 1084,304.31 1086,304.34 1088,304.37 1090,304.4 1092,304.43 1094,304.45 1096,304.48 1098,304.5 1100,304.53 1102,304.55 1104,304.57 1106,304.59 1108,304.61 1110,304.63 1112,304.64 1114,304.66 1116,304.67 1118,304.68 1120,304.69 1122,304.69 1124,304.7 1126,304.7 1128,304.71 1130,304.71 1132,304.71 1134,304.71 1136,304.72 1138,304.72 1140,304.72 1142,304.72 1144,304.72 1146,304.73 1148,304.73 1150,304.73 1152,304.73 1154,304.73 1156,304.73 1158,304.73 1160,304.74 1162,304.74 1164,304.74 1166,304.74 1168,304.74 1170,304.74 1172,304.74 1174,304.74 1176,304.75 1178,304.75 1180,304.75 1182,304.75 1184,304.75 1186,304.76 1188,304.76 1190,304.76 1192,304.76 1194,304.76 1196,304.77 1198,304.77 1200,304.77 1202,304.77 1204,304.77 1206,304.78 1208,304.78 1210,304.78 1212,304.78 1214,304.78 1216,304.79 1218,304.79 1220,304.79 1222,304.79 1224,304.79 1226,304.8 1228,304.8 1230,304.8 1230.7,304.8" fill="none" stroke="#D95319" stroke-width="2.0" stroke-linejoin="round" stroke-linecap="butt"/>
<rect x="1316.4" y="24.1" width="197.5" height="70.3" fill="#fff" stroke="#262626" stroke-width="1.2"/>
<path d="M1322.3 42.8H1381.9" stroke="#0072BD" stroke-width="2.0"/>
<path d="M1322.3 75.6H1381.9" stroke="#D95319" stroke-width="2.0"/>
<g font-size="27.8" fill="#000">
<text x="1385.6" y="52.9">Pre-PDHG</text>
<text x="1385.6" y="85.6">FS-PDHG</text>
</g>
</g>
<text fill="#000" font-size="49"><tspan x="336.92" y="645" textLength="14.25" lengthAdjust="spacingAndGlyphs">(</tspan><tspan x="351.67" y="643.7" font-size="43" textLength="23.16" lengthAdjust="spacingAndGlyphs">a</tspan><tspan x="375.03" y="645" textLength="14.25" lengthAdjust="spacingAndGlyphs">)</tspan></text>
<text fill="#000" font-size="49"><tspan x="1162.87" y="645" textLength="13.86" lengthAdjust="spacingAndGlyphs">(</tspan><tspan x="1179.3" y="644.1" font-size="42.8" textLength="23.38" lengthAdjust="spacingAndGlyphs">b</tspan><tspan x="1203.67" y="645" textLength="13.86" lengthAdjust="spacingAndGlyphs">)</tspan></text>
</svg>
</body>
</html>
